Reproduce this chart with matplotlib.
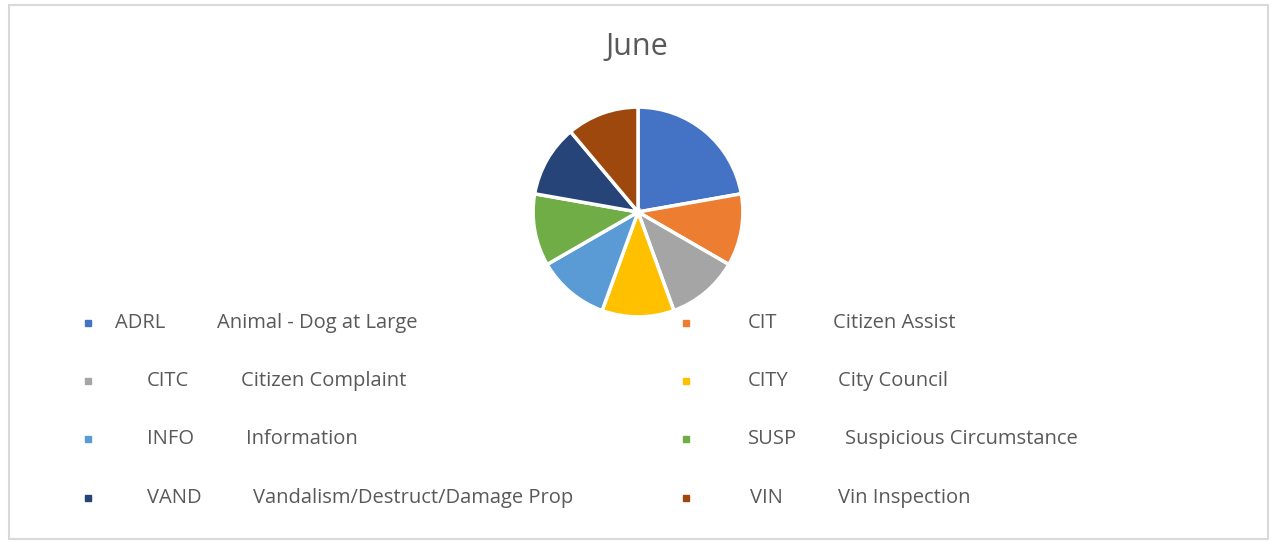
import matplotlib.pyplot as plt
from matplotlib.lines import Line2D
from matplotlib.patches import Rectangle

# data: call counts for June
codes = ['ADRL', 'CIT', 'CITC', 'CITY', 'INFO', 'SUSP', 'VAND', 'VIN']
descriptions = ['Animal - Dog at Large', 'Citizen Assist', 'Citizen Complaint',
                'City Council', 'Information', 'Suspicious Circumstance',
                'Vandalism/Destruct/Damage Prop', 'Vin Inspection']
counts = [2, 1, 1, 1, 1, 1, 1, 1]
colors = ['#4472C4', '#ED7D31', '#A5A5A5', '#FFC000',
          '#5B9BD5', '#70AD47', '#264478', '#9E480E']

plt.rcParams['font.family'] = ['Open Sans', 'DejaVu Sans']
text_color = '#595959'

W, H = 1274, 542
fig = plt.figure(figsize=(W / 100, H / 100), dpi=100)

# outer chart border
fig.add_artist(Rectangle((9 / W, 3 / H), 1259 / W, 534 / H, transform=fig.transFigure,
                         fill=False, edgecolor='#d9d9d9', linewidth=1.5))

fig.text(637 / W, 1 - 47 / H, 'June', ha='center', va='center',
         fontsize=22, color=text_color)

# pie axes, centre (638, 212) px, radius ~106 px
cx, cy, r = 638, 212, 107
ax = fig.add_axes([(cx - r) / W, 1 - (cy + r) / H, 2 * r / W, 2 * r / H])
ax.pie(counts, colors=colors, startangle=90, counterclock=False,
       wedgeprops=dict(edgecolor='white', linewidth=2.5))
ax.set_xlim(-1.02, 1.02)
ax.set_ylim(-1.02, 1.02)
ax.set_aspect('equal')
ax.axis('off')

# legend laid out two per row like the Excel original
row_y = [323, 381, 439, 498]
marker_x = [88, 686]
code_x = [[115, 748], [147, 748], [147, 748], [147, 750]]
desc_x = [[217, 833], [241, 838], [246, 845], [253, 838]]

for i, (code, desc, col) in enumerate(zip(codes, descriptions, colors)):
    row, c = divmod(i, 2)
    y = 1 - row_y[row] / H
    fig.add_artist(Line2D([marker_x[c] / W], [y], transform=fig.transFigure,
                          marker='s', markersize=5, color=col, linestyle='none'))
    fig.text(code_x[row][c] / W, y, code, ha='left', va='center',
             fontsize=14.5, color=text_color)
    fig.text(desc_x[row][c] / W, y, desc, ha='left', va='center',
             fontsize=14.5, color=text_color)

fig.savefig('out.png', dpi=100, facecolor='white')
